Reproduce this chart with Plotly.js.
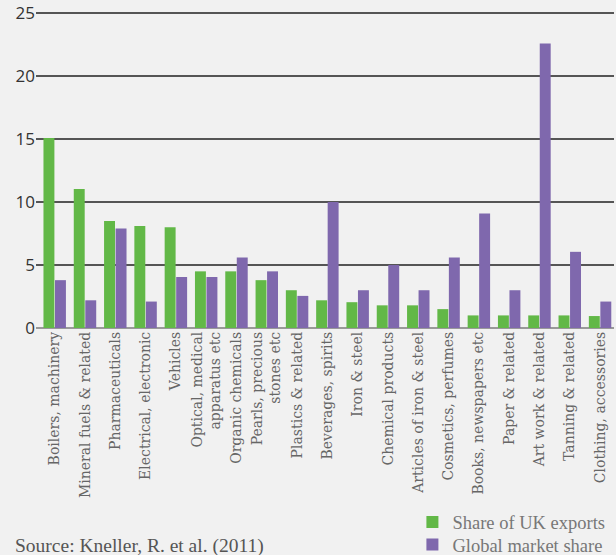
<!DOCTYPE html>
<html>
<head>
<meta charset="utf-8">
<script src="https://cdn.plot.ly/plotly-3.0.1.min.js"></script>
<style>html,body{margin:0;padding:0;background:#f1f1f1;}#chart{width:616px;height:555px;}</style>
</head>
<body>
<div id="chart"></div>
<script>
const categories = [
  "Boilers, machinery", "Mineral fuels & related", "Pharmaceuticals", "Electrical, electronic",
  "Vehicles", "Optical, medical<br>apparatus etc", "Organic chemicals", "Pearls, precious<br>stones etc",
  "Plastics & related", "Beverages, spirits", "Iron & steel", "Chemical products",
  "Articles of iron & steel", "Cosmetics, perfumes", "Books, newspapers etc", "Paper & related",
  "Art work & related", "Tanning & related", "Clothing, accessories"
];
const ukExports = [15.1, 11.05, 8.5, 8.1, 8.0, 4.5, 4.5, 3.8, 3.0, 2.2, 2.05, 1.8, 1.8, 1.5, 1.0, 1.0, 1.0, 1.0, 0.95];
const globalShare = [3.8, 2.2, 7.9, 2.1, 4.05, 4.05, 5.6, 4.5, 2.55, 10.0, 3.0, 5.0, 3.0, 5.6, 9.1, 3.0, 22.6, 6.05, 2.1];
const yTicks = [0, 5, 10, 15, 20, 25];

const serif = "DejaVu Serif, Liberation Serif, serif";
const serif2 = "Liberation Serif, DejaVu Serif, serif";
const legendFont = {family: serif2, size: 18.5, color: "#777"};
const data = [
  {type: "bar", name: "Share of UK exports", x: categories, y: ukExports, marker: {color: "#62b847"}, legend: "legend"},
  {type: "bar", name: "Global market share", x: categories, y: globalShare, marker: {color: "#7f68ad"}, legend: "legend2"}
];
const layout = {
  width: 616, height: 555,
  paper_bgcolor: "#f1f1f1", plot_bgcolor: "#f1f1f1",
  margin: {l: 36, r: 2, t: 12, b: 227, autoexpand: false},
  barmode: "group", bargap: 0.24, bargroupgap: 0.05,
  showlegend: true,
  legend: {x: 0.6695, xanchor: "left", y: 0.0586, yanchor: "middle", xref: "container", yref: "container",
    font: legendFont, bgcolor: "rgba(0,0,0,0)", itemwidth: 30, valign: "middle"},
  legend2: {x: 0.6695, xanchor: "left", y: 0.018, yanchor: "middle", xref: "container", yref: "container",
    font: legendFont, bgcolor: "rgba(0,0,0,0)", itemwidth: 30, valign: "middle"},
  xaxis: {type: "category", range: [-0.617, 18.46], tickangle: -90, showgrid: false, zeroline: false,
    ticks: "", showline: false, tickfont: {family: serif, size: 14, color: "#666"}, automargin: false},
  yaxis: {range: [0, 25.1], tickvals: yTicks, ticktext: yTicks.map(String), showgrid: true, gridcolor: "#555",
    gridwidth: 1.5, zeroline: true, zerolinecolor: "#999", zerolinewidth: 2, showline: false, ticks: "",
    tickfont: {family: "Open Sans, Noto Sans, sans-serif", size: 17, color: "#333"}, automargin: false},
  annotations: [{text: "Source: Kneller, R. et al. (2011)", xref: "paper", yref: "paper", x: -0.04, xanchor: "left",
    y: -0.69, yanchor: "middle", showarrow: false, font: {family: serif2, size: 19.5, color: "#555"}}]
};
Plotly.newPlot("chart", data, layout, {displayModeBar: false});
</script>
</body>
</html>
